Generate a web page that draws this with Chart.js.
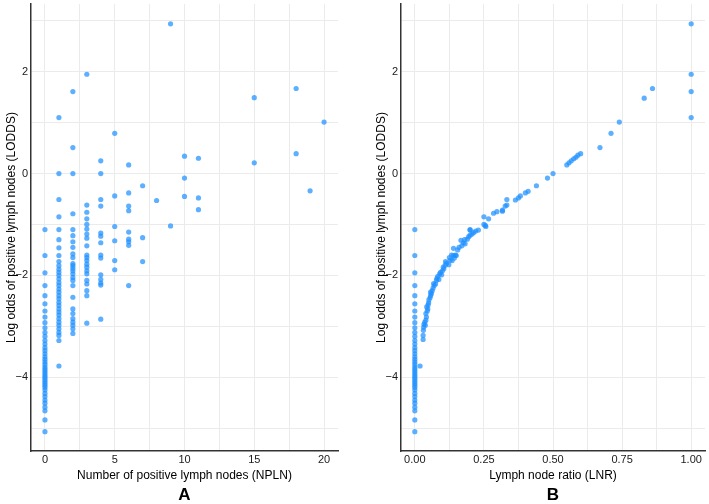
<!DOCTYPE html>
<html>
<head>
<meta charset="utf-8">
<script src="https://cdn.jsdelivr.net/npm/chart.js@4.4.1/dist/chart.umd.min.js"></script>
<style>
body { margin: 0; background: #fff; }
#wrapA { position: absolute; left: 0; top: 0; width: 352px; height: 504px; }
#wrapB { position: absolute; left: 370px; top: 0; width: 339px; height: 504px; }
</style>
</head>
<body>
<div id="wrapA"><canvas id="chartA"></canvas></div>
<div id="wrapB"><canvas id="chartB"></canvas></div>
<script>
// LODDS of patients with no positive node (same patients in both panels, LNR = 0)
var zeroNodeLodds = [-1.10, -1.61, -1.95, -2.20, -2.40, -2.56, -2.70, -2.82, -2.93, -3.03,
  -3.12, -3.20, -3.28, -3.35, -3.42, -3.48, -3.54, -3.60, -3.65, -3.70, -3.75, -3.80,
  -3.84, -3.88, -3.92, -3.96, -4.00, -4.04, -4.08, -4.12, -4.16, -4.20, -4.25, -4.32,
  -4.38, -4.45, -4.51, -4.59, -4.66, -4.84, -5.07];

// panel A: number of positive nodes and the LODDS values seen in each column
var nplnCounts = [0, 1, 2, 3, 4, 5, 6, 7, 8, 9, 10, 11, 15, 18, 19, 20];
var nplnLodds = [
  zeroNodeLodds,
  [1.10, 0, -0.51, -0.85, -1.10, -1.30, -1.46, -1.61, -1.73, -1.81, -1.88, -1.94, -2.00, -2.07,
   -2.14, -2.20, -2.27, -2.33, -2.40, -2.46, -2.53, -2.59, -2.66, -2.72, -2.78, -2.85, -2.92,
   -2.98, -3.05, -3.12, -3.18, -3.28, -3.78],
  [1.61, 0.51, 0, -0.79, -1.10, -1.22, -1.34, -1.45, -1.58, -1.65, -1.77, -1.81, -1.86, -1.91,
   -1.97, -2.04, -2.10, -2.20, -2.43, -2.66, -2.75, -2.85, -2.92, -2.98, -3.05, -3.14],
  [1.95, -0.62, -0.76, -0.89, -1.00, -1.09, -1.19, -1.27, -1.42, -1.60, -1.65, -1.71, -1.78,
   -1.84, -1.91, -1.97, -2.10, -2.17, -2.30, -2.40, -2.94],
  [0.25, 0, -0.51, -0.64, -1.17, -1.23, -1.36, -1.60, -1.66, -1.99, -2.08, -2.15, -2.19, -2.86],
  [0.79, -0.44, -1.04, -1.32, -1.71, -1.89],
  [0.17, -0.38, -0.64, -0.73, -1.15, -1.29, -1.34, -1.41, -2.20],
  [-0.24, -1.26, -1.73],
  [-0.53],
  [2.94, -1.03],
  [0.34, -0.09, -0.45],
  [0.30, -0.48, -0.71],
  [1.49, 0.21],
  [1.67, 0.39],
  [-0.34],
  [1.01]
];

// panel B: lymph node ratio and LODDS for patients with at least one positive node
var lnrValues = [0.030, 0.030, 0.031, 0.032, 0.033, 0.036, 0.038, 0.040, 0.042, 0.040,
  0.045, 0.047, 0.043, 0.048, 0.050, 0.051, 0.055, 0.057, 0.060, 0.057, 0.063, 0.066,
  0.070, 0.068, 0.075, 0.078, 0.080, 0.083, 0.087, 0.090, 0.093, 0.097, 0.100, 0.105,
  0.103, 0.110, 0.115, 0.111, 0.123, 0.128, 0.135, 0.125, 0.133, 0.140, 0.147, 0.150,
  0.143, 0.140, 0.155, 0.160, 0.170, 0.175, 0.167, 0.182, 0.180, 0.190, 0.195, 0.200,
  0.207, 0.213, 0.200, 0.220, 0.230, 0.200, 0.250, 0.257, 0.255, 0.250, 0.267, 0.285,
  0.297, 0.317, 0.317, 0.327, 0.333, 0.333, 0.364, 0.375, 0.382, 0.400, 0.410, 0.440,
  0.480, 0.500, 0.550, 0.558, 0.566, 0.575, 0.583, 0.590, 0.600, 0.670, 0.710, 0.740,
  0.830, 0.860, 1.0, 1.0, 1.0, 1.0, 0.019];
var lnrLodds = [-3.26, -3.18, -3.08, -3.02, -2.96, -2.92, -2.98, -2.88, -2.82, -2.75,
  -2.70, -2.66, -2.62, -2.58, -2.54, -2.48, -2.44, -2.40, -2.36, -2.33, -2.30, -2.25,
  -2.20, -2.16, -2.17, -2.10, -2.06, -2.02, -2.08, -1.97, -1.94, -1.99, -1.91, -1.87,
  -1.84, -1.80, -1.76, -1.73, -1.79, -1.70, -1.71, -1.65, -1.60, -1.61, -1.60, -1.61,
  -1.66, -1.47, -1.50, -1.45, -1.42, -1.36, -1.31, -1.38, -1.30, -1.29, -1.24, -1.21,
  -1.19, -1.16, -1.11, -1.13, -1.11, -1.10, -1.00, -1.04, -1.02, -0.85, -0.89, -0.78,
  -0.75, -0.72, -0.74, -0.64, -0.62, -0.51, -0.52, -0.48, -0.44, -0.38, -0.35, -0.24,
  -0.09, 0, 0.17, 0.21, 0.25, 0.29, 0.32, 0.36, 0.39, 0.51, 0.79, 1.01,
  1.48, 1.67, 1.10, 1.61, 1.95, 2.94, -3.78];

// tick labels and grid
var yLabelTicks = [-4, -2, 0, 2];
var yGridTicks = [-5, -4, -3, -2, -1, 0, 1, 2, 3];
var nplnLabelTicks = [0, 5, 10, 15, 20];
var lnrLabelTicks = [0, 0.25, 0.5, 0.75, 1];

Chart.defaults.font.family = "'Liberation Sans', Arial, sans-serif";
Chart.defaults.color = '#1a1a1a';

var pointColor = 'rgba(30,144,255,0.72)';

function withMinors(major) {
  var out = [];
  for (var i = 0; i < major.length; i++) {
    out.push(major[i]);
    if (i < major.length - 1) out.push((major[i] + major[i + 1]) / 2);
  }
  return out;
}

function makeOptions(xMin, xMax, xLabels, xFmt, xTitle, panel, padRight) {
  var xGrid = withMinors(xLabels);
  return {
    responsive: true,
    maintainAspectRatio: false,
    animation: false,
    events: [],
    layout: { padding: { top: 2, right: padRight, left: 0, bottom: -2 } },
    plugins: {
      legend: { display: false },
      tooltip: { enabled: false },
      title: {
        display: true, text: panel, position: 'bottom', fullSize: false,
        color: '#000', font: { size: 17, weight: 'bold' },
        padding: { top: 0, bottom: 0 }
      }
    },
    scales: {
      x: {
        type: 'linear', min: xMin, max: xMax,
        afterBuildTicks: function (s) { s.ticks = xGrid.map(function (v) { return { value: v }; }); },
        afterFit: function (s) { s.height = 34.6; },
        grid: { color: '#ebebeb', lineWidth: 1, drawTicks: false },
        border: { display: true, color: '#333', width: 1.5 },
        ticks: {
          padding: 2, font: { size: 11 }, color: '#1a1a1a', maxRotation: 0, autoSkip: false,
          callback: function (v) { return xLabels.indexOf(v) >= 0 ? xFmt(v) : ''; }
        },
        title: { display: true, text: xTitle, color: '#000', font: { size: 12 }, padding: { top: 0, bottom: 2.7 } }
      },
      y: {
        type: 'linear', min: -5.45, max: 3.33,
        afterBuildTicks: function (s) { s.ticks = yGridTicks.map(function (v) { return { value: v }; }); },
        afterFit: function (s) { s.width = 31; s.paddingTop = 0; s.paddingBottom = 0; },
        grid: { color: '#ebebeb', lineWidth: 1, drawTicks: false },
        border: { display: true, color: '#333', width: 1.5 },
        ticks: {
          padding: 3, font: { size: 11 }, color: '#1a1a1a', autoSkip: false,
          callback: function (v) { return yLabelTicks.indexOf(v) >= 0 ? String(v).replace('-', '\u2212') : ''; }
        },
        title: { display: true, text: 'Log odds of positive lymph nodes (LODDS)', color: '#000', font: { size: 12 }, padding: { top: 4, bottom: 0 } }
      }
    }
  };
}

var dataA = [];
nplnCounts.forEach(function (c, i) {
  nplnLodds[i].forEach(function (v) { dataA.push({ x: c, y: v }); });
});

var dataB = zeroNodeLodds.map(function (v) { return { x: 0, y: v }; });
lnrValues.forEach(function (r, i) { dataB.push({ x: r, y: lnrLodds[i] }); });

new Chart(document.getElementById('chartA').getContext('2d'), {
  type: 'scatter',
  data: { datasets: [{ data: dataA, backgroundColor: pointColor, borderWidth: 0, pointRadius: 2.6 }] },
  options: makeOptions(-1, 21, nplnLabelTicks, function (v) { return String(v); },
    'Number of positive lymph nodes (NPLN)', 'A', 14)
});

new Chart(document.getElementById('chartB').getContext('2d'), {
  type: 'scatter',
  data: { datasets: [{ data: dataB, backgroundColor: pointColor, borderWidth: 0, pointRadius: 2.6 }] },
  options: makeOptions(-0.05, 1.05, lnrLabelTicks, function (v) { return v.toFixed(2); },
    'Lymph node ratio (LNR)', 'B', 1)
});
</script>
</body>
</html>
